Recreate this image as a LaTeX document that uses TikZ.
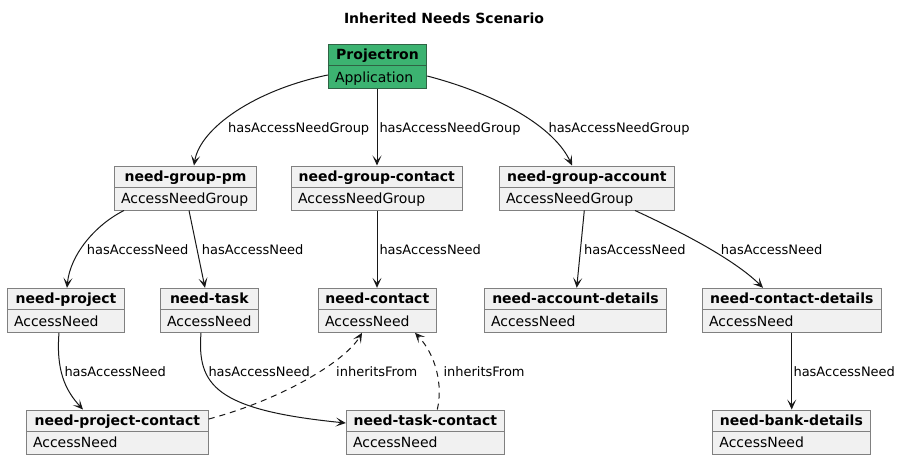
\documentclass[tikz,border=0pt]{standalone}
\usepackage{fontspec}
\setmainfont{DejaVu Sans}
\usetikzlibrary{arrows.meta}
\definecolor{boxfill}{HTML}{F1F1F1}
\definecolor{boxline}{HTML}{808080}
\definecolor{greenfill}{HTML}{3CB371}
\definecolor{greenline}{HTML}{2F6344}
\definecolor{conn}{HTML}{181818}
\tikzset{
  objframe/.style={draw=boxline, line width=1pt, inner sep=0pt, minimum height=44pt},
  objtitle/.style={inner sep=0pt, anchor=base, font=\fontsize{14}{16}\selectfont\bfseries},
  objtype/.style={inner sep=0pt, anchor=base west, font=\fontsize{14}{16}\selectfont},
  lbl/.style={inner sep=0pt, anchor=base west, font=\fontsize{13}{15}\selectfont},
  rel/.style={draw=conn, line width=1pt, -{Stealth[length=10pt,width=9pt,inset=5pt]}},
  inh/.style={rel, dash pattern=on 6pt off 5pt},
}
% #1 name, #2 x1, #3 x2, #4 y1, #5 title, #6 type, #7 fill, #8 border
\newcommand\objbox[8]{%
  \pgfmathsetmacro\objw{#3-#2}%
  \pgfmathsetmacro\objcx{(#3+#2)/2}%
  \pgfmathsetmacro\objcy{#4+22}%
  \node[objframe, fill=#7, draw=#8, minimum width=\objw pt] (#1) at (\objcx,\objcy) {};
  \draw[draw=#8, line width=1pt] ([yshift=-21.5pt]#1.north west) -- ([yshift=-21.5pt]#1.north east);
  \node[objtitle] (#1-t) at ([yshift=-15.5pt]#1.north) {#5};
  \node[objtype] (#1-b) at ([xshift=7pt,yshift=-38.3pt]#1.north west) {#6};
}
\begin{document}
\begin{tikzpicture}[x=1pt,y=-1pt]
\useasboundingbox[fill=white] (0,0) rectangle (901,460);
\node[inner sep=0pt, anchor=base, font=\fontsize{14}{16}\selectfont\bfseries] (title) at (444,23.3) {Inherited Needs Scenario};

\objbox{app}{328.3}{426.7}{44.3}{Projectron}{Application}{greenfill}{greenline}
\objbox{gpm}{114.3}{256.7}{166}{need-group-pm}{AccessNeedGroup}{boxfill}{boxline}
\objbox{gcontact}{291.3}{462.3}{166}{need-group-contact}{AccessNeedGroup}{boxfill}{boxline}
\objbox{gaccount}{499.3}{674.3}{166}{need-group-account}{AccessNeedGroup}{boxfill}{boxline}
\objbox{nproject}{7.3}{124.7}{288.3}{need-project}{AccessNeed}{boxfill}{boxline}
\objbox{ntask}{160.3}{258.3}{288.3}{need-task}{AccessNeed}{boxfill}{boxline}
\objbox{ncontact}{318.3}{436.3}{288.3}{need-contact}{AccessNeed}{boxfill}{boxline}
\objbox{naccount}{484.3}{666.7}{288.3}{need-account-details}{AccessNeed}{boxfill}{boxline}
\objbox{ncdetails}{702.3}{881.3}{288.3}{need-contact-details}{AccessNeed}{boxfill}{boxline}
\objbox{npcontact}{26.3}{208.3}{410}{need-project-contact}{AccessNeed}{boxfill}{boxline}
\objbox{ntcontact}{346.3}{504.3}{410}{need-task-contact}{AccessNeed}{boxfill}{boxline}
\objbox{nbank}{712.7}{870}{410}{need-bank-details}{AccessNeed}{boxfill}{boxline}

% connectors
\draw[rel] (app.west |- 0,75) .. controls (255,90) and (200,128) .. (gpm.north -| 194,0);
\draw[rel] (app.south -| 377,0) -- (gcontact.north -| 377,0);
\draw[rel] (app.east |- 0,76) .. controls (500,95) and (555,128) .. (gaccount.north -| 572,0);

\draw[rel] (gpm.south -| 124,0) .. controls (95,225) and (70,255) .. (nproject.north -| 67,0);
\draw[rel] (gpm.south -| 189,0) -- (ntask.north -| 205,0);
\draw[rel] (gcontact.south -| 377,0) -- (ncontact.north -| 377,0);
\draw[rel] (gaccount.south -| 584.3,0) -- (naccount.north -| 576.7,0);
\draw[rel] (gaccount.south -| 635,0) .. controls (675,229) and (733,258) .. (ncdetails.north -| 763,0);
\draw[rel] (ncdetails.south -| 791.7,0) -- (nbank.north -| 791.7,0);

\draw[rel] (nproject.south -| 59,0) .. controls (56,370) and (65,390) .. (npcontact.north -| 83,0);
\draw[rel] (ntask.south -| 201,0) .. controls (197,385) and (215,410) .. (ntcontact.west |- 0,423);
\draw[inh] (npcontact.east |- 0,419) .. controls (280,400) and (345,362) .. (ncontact.south -| 362,0);
\draw[inh] (ntcontact.north -| 437.3,0) .. controls (443,385) and (436,355) .. (ncontact.south -| 415,0);

% labels
\node[lbl] (l1) at (228,132) {hasAccessNeedGroup};
\node[lbl] (l2) at (379.3,132) {hasAccessNeedGroup};
\node[lbl] (l3) at (548.3,132) {hasAccessNeedGroup};
\node[lbl] (l4) at (86.7,254.7) {hasAccessNeed};
\node[lbl] (l5) at (201.7,254.7) {hasAccessNeed};
\node[lbl] (l6) at (379.3,254.7) {hasAccessNeed};
\node[lbl] (l7) at (584,254.7) {hasAccessNeed};
\node[lbl] (l8) at (720.7,254.7) {hasAccessNeed};
\node[lbl] (l9) at (793.3,376.3) {hasAccessNeed};
\node[lbl] (l10) at (64.3,376) {hasAccessNeed};
\node[lbl] (l11) at (208.3,376) {hasAccessNeed};
\node[lbl] (l12) at (336,376) {inheritsFrom};
\node[lbl] (l13) at (443.3,376) {inheritsFrom};
\end{tikzpicture}
\end{document}
